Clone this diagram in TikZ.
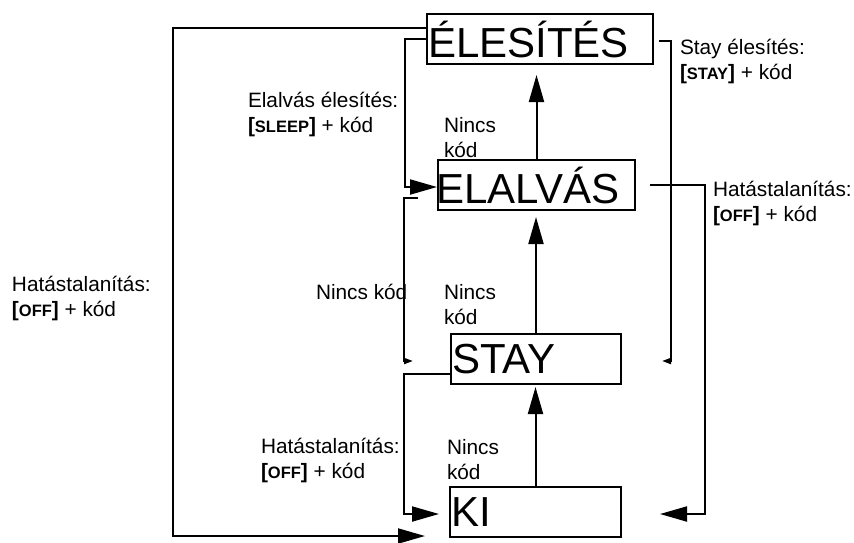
\documentclass[tikz,border=0pt]{standalone}
\usepackage{fontspec}
\setmainfont{Liberation Sans}
\usetikzlibrary{positioning, arrows.meta}

% key caps in the labels
\newcommand{\keyname}[1]{\textbf{[}{\bfseries\fontsize{16.5}{24}\selectfont #1}\textbf{]}}

\begin{document}
\begin{tikzpicture}[
    x=1pt, y=-1pt,
    line width=2pt,
    >={Triangle[length=27pt,width=15pt]},
    mode/.style={rectangle, draw=black, anchor=north west, inner xsep=1pt, inner ysep=0pt, minimum height=50pt, align=left, font=\fontsize{42}{42}\selectfont},
    note/.style={anchor=base west, inner sep=0pt, align=left, font=\fontsize{20.8}{25}\selectfont}, % base = last line
    small/.style={-{Triangle[length=9pt,width=6pt]}}
]
\useasboundingbox (0,0) rectangle (854,542);

% Nodes
\node[mode, text width=224pt] (elesites) at (426,13) {ÉLESÍTÉS};
\node[mode, text width=195pt] (elalvas) at (437,159) {\hspace*{-3pt}ELALVÁS};
\node[mode, text width=168pt] (stay) at (450,333) {STAY};
\node[mode, text width=169pt] (ki) at (449,486) {KI};

% Labels
\node[note] (offleft) at (11,316) {Hatástalanítás:\\\keyname{OFF} + kód};
\node[note] (sleep) at (247,132) {Elalvás élesítés:\\\keyname{SLEEP} + kód};
\node[note] (stayarm) at (679,79) {Stay élesítés:\\\keyname{STAY} + kód};
\node[note] (offright) at (712,221) {Hatástalanítás:\\\keyname{OFF} + kód};
\node[note] (offbottom) at (260,478) {Hatástalanítás:\\\keyname{OFF} + kód};
\node[note] (nocode1) at (443,157) {Nincs\\kód};
\node[note] (nocode2) at (443,324) {Nincs\\kód};
\node[note] (nocode3) at (446,479) {Nincs\\kód};
\node[note] (nocode4) at (315,299) {Nincs kód};

% Upward arrows
\draw[->, shorten >=2pt] (ki.north) -- (ki.north |- stay.south);
\draw[->, shorten >=6pt] (stay.north) -- (stay.north |- elalvas.south);
\draw[->, shorten >=10pt] (elalvas.north) -- (elalvas.north |- elesites.south);

% Left side
\draw[->] ([yshift=11pt] elesites.west) -- ++(-253,0) |- ([xshift=-24pt, yshift=2pt] ki.south west);
\draw[->] (elesites.west) -- ++(-21,0) |- ([yshift=-2pt] elalvas.west);
\draw[small] ([xshift=-19pt, yshift=-13pt] elalvas.west) -- ++(-14,0) |- ([xshift=-37pt, yshift=-2pt] stay.west);
\draw[->] ([yshift=-15pt] stay.west) -- ++(-46,0) |- ([xshift=-10pt, yshift=-2pt] ki.west);

% Right side
\draw[small] ([xshift=5pt, yshift=-2pt] elesites.east) -- ++(12,0) |- ([xshift=40pt, yshift=-2pt] stay.east);
\draw[->] ([xshift=14pt] elalvas.east) -- ++(55,0) |- ([xshift=38pt, yshift=-2pt] ki.east);

\end{tikzpicture}
\end{document}
